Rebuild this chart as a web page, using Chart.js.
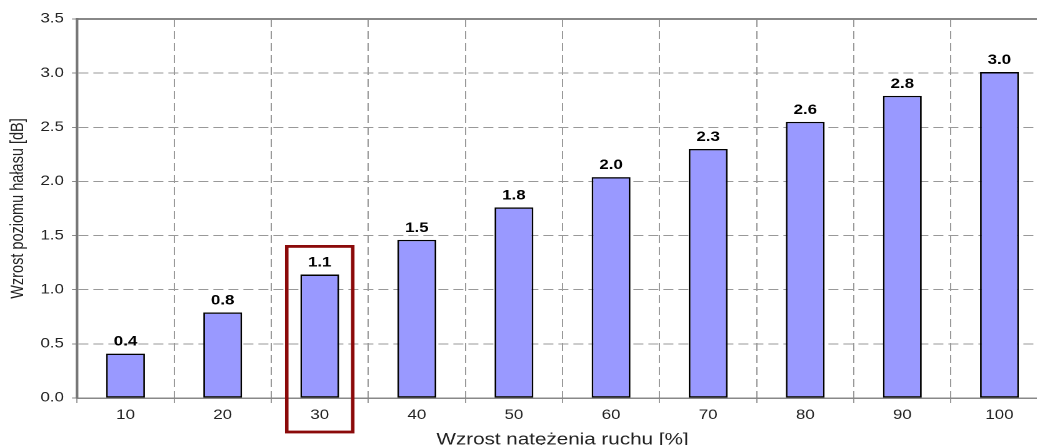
<!DOCTYPE html>
<html>
<head>
<meta charset="utf-8">
<script src="https://cdn.jsdelivr.net/npm/chart.js@4/dist/chart.umd.min.js"></script>
<style>
  html, body { margin: 0; padding: 0; background: #fff; }
  #wrap { width: 1037px; height: 445px; overflow: hidden; position: relative; }
  /* the source picture is stretched sideways, so the chart is drawn narrow and widened */
  #box { width: 840px; height: 452px; position: absolute; left: 0; top: 0;
         transform: scaleX(1.25); transform-origin: 0 0; }
</style>
</head>
<body>
<div id="wrap"><div id="box"><canvas id="noiseChart"></canvas></div></div>
<script>
// traffic increase [%] vs noise level increase [dB]
const categories = ["10", "20", "30", "40", "50", "60", "70", "80", "90", "100"];
const noiseIncrease = [0.41, 0.79, 1.14, 1.46, 1.76, 2.04, 2.30, 2.55, 2.79, 3.01];
const barLabels = ["0.4", "0.8", "1.1", "1.5", "1.8", "2.0", "2.3", "2.6", "2.8", "3.0"];
const yTicks = [0, 0.5, 1.0, 1.5, 2.0, 2.5, 3.0, 3.5];
const highlighted = 2; // index of the "30" bar

const fontName = "'Liberation Sans', Arial, sans-serif";

const barLabelPlugin = {
    id: 'barLabels',
    afterDatasetsDraw(chart) {
        const ctx = chart.ctx;
        const meta = chart.getDatasetMeta(0);
        ctx.save();
        ctx.font = "bold 13.5px " + fontName;
        ctx.fillStyle = "#000";
        ctx.textAlign = "center";
        ctx.textBaseline = "bottom";
        meta.data.forEach(function (bar, i) {
            ctx.fillText(barLabels[i], bar.x, bar.y - 5);
        });
        ctx.restore();
    }
};

const highlightPlugin = {
    id: 'highlightBox',
    afterDraw(chart) {
        const ctx = chart.ctx;
        const x = chart.scales.x;
        const y = chart.scales.y;
        const cx = x.getPixelForValue(highlighted);
        const half = (x.getPixelForValue(1) - x.getPixelForValue(0)) * 0.34;
        const top = y.getPixelForValue(1.40);
        const bottom = y.getPixelForValue(0) + 34;
        ctx.save();
        ctx.strokeStyle = "#8b0a0a";
        ctx.lineWidth = 2.8;
        ctx.strokeRect(cx - half, top, half * 2, bottom - top);
        ctx.restore();
    }
};

new Chart("noiseChart", {
    type: "bar",
    data: {
        labels: categories,
        datasets: [{
            data: noiseIncrease,
            backgroundColor: "#9999ff",
            borderColor: "#000",
            borderWidth: 1.4,
            borderSkipped: false,
            barPercentage: 0.4,
            categoryPercentage: 1.0
        }]
    },
    options: {
        responsive: true,
        maintainAspectRatio: false,
        animation: false,
        devicePixelRatio: 2,
        layout: { padding: { top: 19, right: 1.6, left: 0, bottom: 0 } },
        plugins: {
            legend: { display: false },
            tooltip: { enabled: false }
        },
        scales: {
            x: {
                position: 'bottom',
                offset: true,
                grid: {
                    offset: true,
                    color: "#999",
                    lineWidth: 1,
                    tickLength: 5,
                    tickColor: "#999"
                },
                border: { display: true, color: "#888", width: 1.5, dash: [8, 4] },
                ticks: {
                    color: "#222",
                    padding: 4,
                    font: { family: fontName, size: 13.5 }
                },
                title: {
                    display: true,
                    text: "Wzrost natężenia ruchu [%]",
                    color: "#222",
                    font: { family: fontName, size: 16.5 },
                    padding: { top: 0, bottom: 2 }
                },
                afterFit(scale) { scale.height = 54; }
            },
            xTop: {
                position: 'top',
                grid: { display: false, drawTicks: false },
                border: { display: true, color: "#888", width: 2 },
                ticks: { display: false },
                afterFit(scale) { scale.height = 0; }
            },
            y: {
                min: 0,
                max: 3.5,
                afterBuildTicks(scale) {
                    scale.ticks = yTicks.map(v => ({ value: v }));
                },
                grid: {
                    color: "#999",
                    lineWidth: 1,
                    tickLength: 4,
                    tickColor: "#888"
                },
                border: { display: true, color: "#777", width: 2.2, dash: [8, 4] },
                ticks: {
                    color: "#222",
                    padding: 6.5,
                    font: { family: fontName, size: 13.5 },
                    callback: v => v.toFixed(1)
                },
                title: {
                    display: true,
                    text: "Wzrost poziomu hałasu [dB]",
                    color: "#222",
                    font: { family: fontName, size: 14.5 },
                    padding: { top: 6, bottom: 0 }
                },
                afterFit(scale) { scale.width = 61.6; }
            }
        }
    },
    plugins: [barLabelPlugin, highlightPlugin]
});
</script>
</body>
</html>
